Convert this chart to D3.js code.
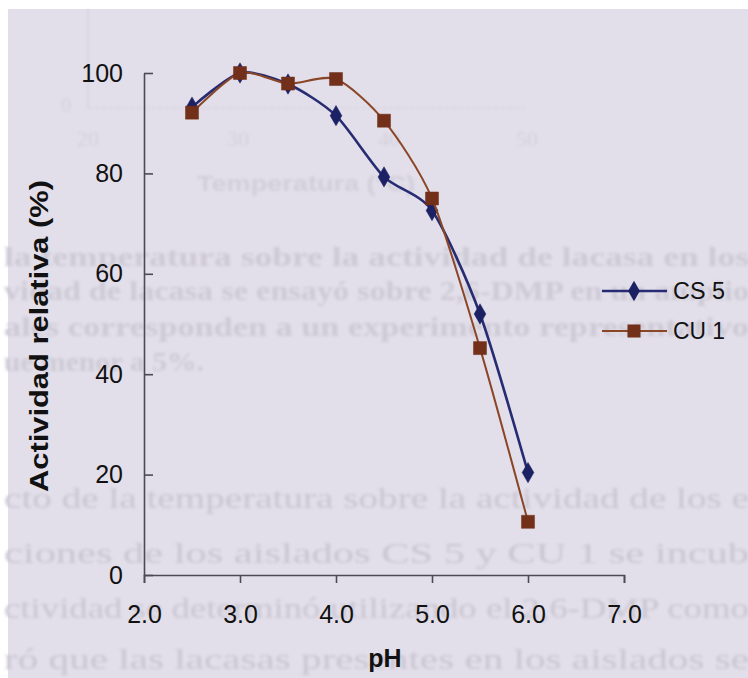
<!DOCTYPE html>
<html><head><meta charset="utf-8">
<script src="https://cdn.jsdelivr.net/npm/d3@7"></script>
<style>html,body{margin:0;padding:0;background:#fff;}svg{display:block;}</style>
</head><body>
<script>
// ---- data ----
const pHValues = [2.5, 3.0, 3.5, 4.0, 4.5, 5.0, 5.5, 6.0];
const cs5 = [93.2, 100, 97.8, 91.5, 79.3, 72.6, 52.0, 20.4];
const cu1 = [92.1, 100, 97.9, 98.8, 90.5, 75.0, 45.2, 10.6];
const seriesNames = ["CS 5", "CU 1"];
const xTicks = [2, 3, 4, 5, 6, 7];
const yTicks = [0, 20, 40, 60, 80, 100];
const xTitle = "pH";
const yTitle = "Actividad relativa (%)";
// faint bleed-through text of the scanned page
const ghostTop = ["la temperatura sobre la actividad de lacasa en los",
  "vidad de lacasa se ensayó sobre 2,6-DMP en un amplio",
  "ales corresponden a un experimento representativo",
  "ue menor a 5%."];
const ghostBottom = ["cto de la temperatura sobre la actividad de los e",
  "ciones de los aislados CS 5 y CU 1 se incub",
  "ctividad se determinó utilizando el 2,6-DMP como",
  "ró que las lacasas presentes en los aislados se"];
const ghostAxisTicks = ["20", "30", "40", "50"];
const ghostAxisTitle = "Temperatura (°C)";

const W = 748, H = 678;
const svg = d3.select("body").append("svg").attr("width", W).attr("height", H);
const defs = svg.append("defs");
defs.append("filter").attr("id", "blur").append("feGaussianBlur").attr("stdDeviation", 1.4);

svg.append("rect").attr("width", W).attr("height", H).attr("fill", "#ffffff");
svg.append("rect").attr("x", 8).attr("y", 9).attr("width", W - 8).attr("height", H - 9).attr("fill", "#e2dfea");

// ghost layer
const ghost = svg.append("g").attr("filter", "url(#blur)");
ghost.append("line").attr("x1", 88).attr("x2", 88).attr("y1", 9).attr("y2", 108)
  .attr("stroke", "#d3d0db").attr("stroke-width", 1.5);
ghost.append("line").attr("x1", 88).attr("x2", 525).attr("y1", 108).attr("y2", 108)
  .attr("stroke", "#d3d0db").attr("stroke-width", 1.5).attr("stroke-dasharray", "4,3");
ghost.append("text").attr("x", 66).attr("y", 112).attr("text-anchor", "middle")
  .attr("font-family", "Liberation Serif").attr("font-size", 20).attr("fill", "#d3d0db").text("0");
const gX = [88, 238, 389, 527];
ghostAxisTicks.forEach((t, i) => ghost.append("text").attr("x", gX[i]).attr("y", 146)
  .attr("text-anchor", "middle").attr("font-family", "Liberation Serif").attr("font-size", 22)
  .attr("fill", "#d3d0db").text(t));
ghost.append("text").attr("x", 306).attr("y", 191).attr("text-anchor", "middle")
  .attr("font-family", "Liberation Sans").attr("font-weight", "bold").attr("font-size", 22)
  .attr("fill", "#d1ceda").attr("textLength", 218).attr("lengthAdjust", "spacingAndGlyphs").text(ghostAxisTitle);
const topY = [266, 300, 336, 371];
const topLen = [745, 745, 745, 200];
ghostTop.forEach((t, i) => ghost.append("text").attr("x", 4).attr("y", topY[i])
  .attr("font-family", "Liberation Serif").attr("font-weight", "bold").attr("font-size", 27)
  .attr("fill", "#cdc9d5").attr("textLength", topLen[i]).attr("lengthAdjust", "spacingAndGlyphs").text(t));
const botY = [508, 563, 618, 669];
ghostBottom.forEach((t, i) => ghost.append("text").attr("x", 4).attr("y", botY[i])
  .attr("font-family", "Liberation Serif").attr("font-size", 30)
  .attr("fill", "#c9c5d1").attr("textLength", 745).attr("lengthAdjust", "spacingAndGlyphs").text(t));

// scales
const x = d3.scaleLinear().domain([2, 7]).range([144, 624]);
const y = d3.scaleLinear().domain([0, 100]).range([575, 73]);

const axisColor = "#4b4a55";
const gy = svg.append("g").attr("transform", "translate(144,0)")
  .call(d3.axisLeft(y).tickValues(yTicks).tickSizeInner(-9).tickSizeOuter(0).tickPadding(21).tickFormat(d3.format("d")));
const gx = svg.append("g").attr("transform", "translate(0,575)")
  .call(d3.axisBottom(x).tickValues(xTicks).tickSizeInner(8).tickSizeOuter(8).tickPadding(22).tickFormat(d3.format(".1f")));
[gx, gy].forEach(g => {
  g.selectAll("path, line").attr("stroke", axisColor).attr("stroke-width", 1.6);
  g.selectAll("text").attr("font-family", "Liberation Sans").attr("font-size", 25).attr("fill", "#111");
});

// titles
svg.append("text").attr("x", 385).attr("y", 667).attr("text-anchor", "middle")
  .attr("font-family", "Liberation Sans").attr("font-weight", "bold").attr("font-size", 25)
  .attr("fill", "#111").text(xTitle);
svg.append("text").attr("transform", "translate(48,336) rotate(-90)").attr("text-anchor", "middle")
  .attr("font-family", "Liberation Sans").attr("font-weight", "bold").attr("font-size", 25)
  .attr("fill", "#111").attr("textLength", 312).attr("lengthAdjust", "spacingAndGlyphs").text(yTitle);

// series
const series = [
  {name: seriesNames[0], values: cs5, line: "#262b72", fill: "#1c2163", shape: d3.symbolDiamond, size: 120, lw: 2.6},
  {name: seriesNames[1], values: cu1, line: "#8a4626", fill: "#72301a", shape: d3.symbolSquare, size: 170, lw: 2.0}
];
const lineGen = d3.line().x(d => x(d[0])).y(d => y(d[1])).curve(d3.curveCardinal.tension(0.25));
series.forEach(s => {
  const pts = pHValues.map((p, i) => [p, s.values[i]]);
  svg.append("path").datum(pts).attr("d", lineGen).attr("fill", "none")
    .attr("stroke", s.line).attr("stroke-width", s.lw);
  svg.selectAll(null).data(pts).enter().append("path")
    .attr("d", d3.symbol().type(s.shape).size(s.size))
    .attr("transform", d => `translate(${x(d[0])},${y(d[1])})`)
    .attr("fill", s.fill).attr("stroke", s.fill).attr("stroke-width", 0.5);
});

// legend
const legY = [291, 331];
series.forEach((s, i) => {
  const g = svg.append("g").attr("transform", `translate(602,${legY[i]})`);
  g.append("line").attr("x1", 0).attr("x2", 65).attr("stroke", s.line).attr("stroke-width", s.lw);
  g.append("path").attr("d", d3.symbol().type(s.shape).size(s.size)).attr("transform", "translate(32,0)")
    .attr("fill", s.fill);
  g.append("text").attr("x", 71).attr("y", 8).attr("font-family", "Liberation Sans").attr("font-size", 23)
    .attr("fill", "#111").attr("textLength", 52).attr("lengthAdjust", "spacingAndGlyphs").text(s.name);
});
</script>
</body></html>
